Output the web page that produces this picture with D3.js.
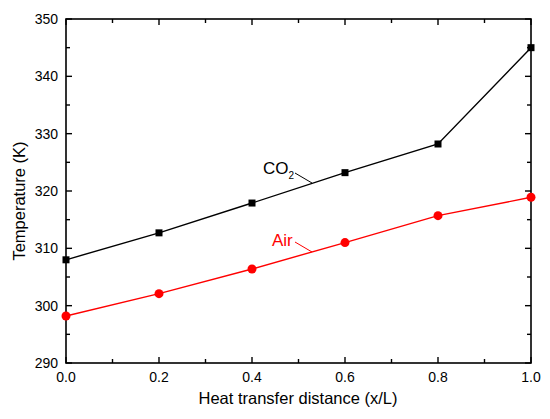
<!DOCTYPE html>
<html>
<head>
<meta charset="utf-8">
<script src="https://cdn.jsdelivr.net/npm/d3@7"></script>
<style>
  body { margin: 0; background: #fff; }
  text { font-family: Arial, "Liberation Sans", sans-serif; }
</style>
</head>
<body>
<div id="chart"></div>
<script>
// chart values
var positions = [0.0, 0.2, 0.4, 0.6, 0.8, 1.0];
var co2Temps = [308.0, 312.7, 317.9, 323.2, 328.2, 345.0];
var airTemps = [298.2, 302.1, 306.4, 311.0, 315.7, 318.9];
var xTicks = [0.0, 0.2, 0.4, 0.6, 0.8, 1.0];
var yTicks = [290, 300, 310, 320, 330, 340, 350];

var width = 550, height = 419;
var margin = {top: 19, right: 19, bottom: 56, left: 66};

var svg = d3.select('#chart').append('svg')
    .attr('width', width)
    .attr('height', height);

var x = d3.scaleLinear().domain([0, 1])
    .range([margin.left, width - margin.right]);
var y = d3.scaleLinear().domain([290, 350])
    .range([height - margin.bottom, margin.top]);

var x0 = x(0), x1 = x(1), y0 = y(290), y1 = y(350);

// minor ticks, inward on all four sides
var xMinor = d3.range(0.1, 1.0, 0.2);
var yMinor = d3.range(295, 350, 10);

function tickLines(data, fn) {
    svg.append('g').selectAll('line').data(data).enter().append('line')
        .each(function(d) {
            var c = fn(d);
            d3.select(this).attr('x1', c[0]).attr('y1', c[1]).attr('x2', c[2]).attr('y2', c[3]);
        })
        .attr('stroke', '#000')
        .attr('stroke-width', 1.4);
}

var major = 6, minor = 4;
tickLines(xTicks, function(d) { return [x(d), y0, x(d), y0 - major]; });
tickLines(xMinor, function(d) { return [x(d), y0, x(d), y0 - minor]; });
tickLines(xTicks, function(d) { return [x(d), y1, x(d), y1 + major]; });
tickLines(xMinor, function(d) { return [x(d), y1, x(d), y1 + minor]; });
tickLines(yTicks, function(d) { return [x0, y(d), x0 + major, y(d)]; });
tickLines(yMinor, function(d) { return [x0, y(d), x0 + minor, y(d)]; });
tickLines(yTicks, function(d) { return [x1, y(d), x1 - major, y(d)]; });
tickLines(yMinor, function(d) { return [x1, y(d), x1 - minor, y(d)]; });

// frame
svg.append('rect')
    .attr('x', x0).attr('y', y1)
    .attr('width', x1 - x0).attr('height', y0 - y1)
    .attr('fill', 'none')
    .attr('stroke', '#000')
    .attr('stroke-width', 1.6);

// tick labels
svg.append('g').selectAll('text').data(xTicks).enter().append('text')
    .attr('x', function(d) { return x(d); })
    .attr('y', y0 + 19)
    .attr('text-anchor', 'middle')
    .attr('font-size', 14)
    .text(function(d) { return d3.format('.1f')(d); });

svg.append('g').selectAll('text').data(yTicks).enter().append('text')
    .attr('x', x0 - 8)
    .attr('y', function(d) { return y(d) + 5; })
    .attr('text-anchor', 'end')
    .attr('font-size', 14)
    .text(function(d) { return d; });

// axis titles
svg.append('text')
    .attr('x', 298)
    .attr('y', 404)
    .attr('text-anchor', 'middle')
    .attr('font-size', 16.5)
    .text('Heat transfer distance (x/L)');

svg.append('text')
    .attr('transform', 'translate(25,201) rotate(-90)')
    .attr('text-anchor', 'middle')
    .attr('font-size', 16.5)
    .text('Temperature (K)');

var line = d3.line()
    .x(function(d) { return x(d[0]); })
    .y(function(d) { return y(d[1]); });

var co2 = d3.zip(positions, co2Temps);
var air = d3.zip(positions, airTemps);

svg.append('path').datum(co2)
    .attr('d', line).attr('fill', 'none')
    .attr('stroke', '#000').attr('stroke-width', 1.4);
svg.append('path').datum(air)
    .attr('d', line).attr('fill', 'none')
    .attr('stroke', '#ff0000').attr('stroke-width', 1.4);

svg.append('g').selectAll('rect').data(co2).enter().append('rect')
    .attr('x', function(d) { return x(d[0]) - 3.5; })
    .attr('y', function(d) { return y(d[1]) - 3.5; })
    .attr('width', 7).attr('height', 7)
    .attr('fill', '#000');

svg.append('g').selectAll('circle').data(air).enter().append('circle')
    .attr('cx', function(d) { return x(d[0]); })
    .attr('cy', function(d) { return y(d[1]); })
    .attr('r', 4.5)
    .attr('fill', '#ff0000');

// series labels with leader lines
var co2Label = svg.append('text')
    .attr('x', 263).attr('y', 174)
    .attr('font-size', 17)
    .attr('fill', '#000');
co2Label.append('tspan').text('CO');
co2Label.append('tspan').attr('font-size', 10).attr('dy', 5).text('2');
svg.append('line')
    .attr('x1', 295).attr('y1', 173).attr('x2', 312).attr('y2', 183)
    .attr('stroke', '#000').attr('stroke-width', 1);

svg.append('text')
    .attr('x', 272).attr('y', 246)
    .attr('font-size', 17)
    .attr('fill', '#ff0000')
    .text('Air');
svg.append('line')
    .attr('x1', 295).attr('y1', 242).attr('x2', 312).attr('y2', 252)
    .attr('stroke', '#ff0000').attr('stroke-width', 1);
</script>
</body>
</html>
